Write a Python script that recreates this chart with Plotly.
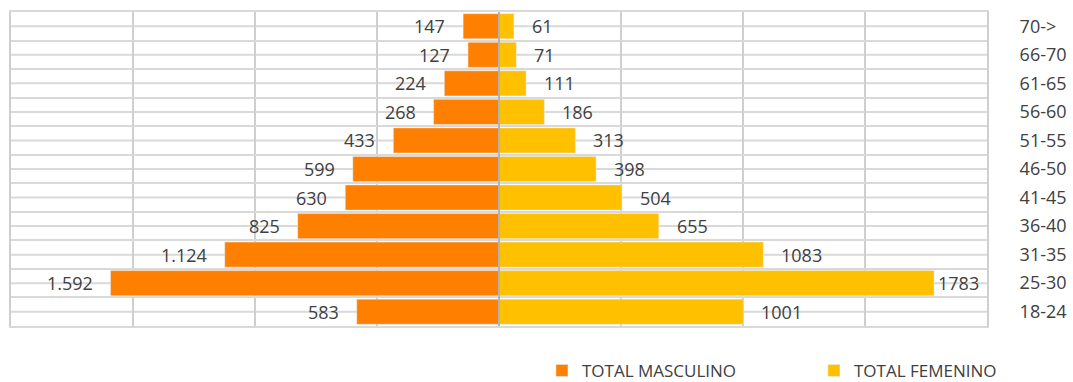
import plotly.graph_objects as go

# Age groups, bottom to top
age_groups = ["18-24", "25-30", "31-35", "36-40", "41-45", "46-50",
              "51-55", "56-60", "61-65", "66-70", "70->"]
male_totals = [583, 1592, 1124, 825, 630, 599, 433, 268, 224, 127, 147]
female_totals = [1001, 1783, 1083, 655, 504, 398, 313, 186, 111, 71, 61]
male_labels = ["583", "1.592", "1.124", "825", "630", "599", "433",
               "268", "224", "127", "147"]
female_labels = ["1001", "1783", "1083", "655", "504", "398", "313",
                 "186", "111", "71", "61"]
x_ticks = [-2000, -1500, -1000, -500, 0, 500, 1000, 1500, 2000]

MALE_COLOR = "#FF7F00"
FEMALE_COLOR = "#FFC000"
TEXT_COLOR = "#404040"
FONT = "Open Sans"
GRID_V = "#CFCFCF"
GRID_H = "#D9D9D9"

fig = go.Figure()
fig.add_trace(go.Bar(
    y=age_groups, x=[-v for v in male_totals], orientation="h",
    name="TOTAL MASCULINO", marker_color=MALE_COLOR, width=0.88,
    hoverinfo="skip",
))
fig.add_trace(go.Bar(
    y=age_groups, x=female_totals, orientation="h",
    name="TOTAL FEMENINO", marker_color=FEMALE_COLOR, width=0.88,
    hoverinfo="skip",
))

# value labels just beyond the bar ends
for cat, v, t in zip(age_groups, male_totals, male_labels):
    fig.add_annotation(x=-v, y=cat, text=t, showarrow=False,
                       xanchor="right", xshift=-16,
                       font=dict(family=FONT, size=18, color=TEXT_COLOR))
for cat, v, t in zip(age_groups, female_totals, female_labels):
    shift = 2 if v > 1700 else 16
    fig.add_annotation(x=v, y=cat, text=t, showarrow=False,
                       xanchor="left", xshift=shift,
                       font=dict(family=FONT, size=18, color=TEXT_COLOR))

# extra gridlines through the middle of each row
for cat in age_groups:
    fig.add_shape(type="line", xref="paper", x0=0, x1=1, y0=cat, y1=cat,
                  line=dict(color=GRID_H, width=2), layer="below")

# central axis line drawn over the bars
fig.add_shape(type="line", x0=0, x1=0, yref="paper", y0=0, y1=1,
              line=dict(color="#B4B4B4", width=2), layer="above")

fig.update_layout(
    width=1073, height=382,
    margin=dict(l=11, r=86, t=12, b=56, autoexpand=False),
    paper_bgcolor="white", plot_bgcolor="white",
    barmode="overlay",
    font=dict(family=FONT, size=18, color=TEXT_COLOR),
    showlegend=True,
    legend=dict(orientation="h", x=0.544, xanchor="left", y=-0.143,
                yanchor="middle", entrywidth=227, entrywidthmode="pixels",
                font=dict(family=FONT, size=17, color=TEXT_COLOR),
                itemclick=False, itemdoubleclick=False),
    xaxis=dict(range=[-2000, 2000], tickvals=x_ticks, showticklabels=False,
               showgrid=True, gridcolor=GRID_V, gridwidth=2,
               zeroline=False, showline=True, linecolor=GRID_H,
               linewidth=2, mirror=True, automargin=False, fixedrange=True),
    yaxis=dict(type="category", categoryarray=age_groups,
               categoryorder="array", side="right", tickson="boundaries",
               showgrid=True, gridcolor=GRID_H, gridwidth=2,
               ticks="", ticklabelstandoff=27, showline=True,
               linecolor=GRID_V, linewidth=2, mirror=True,
               zeroline=False, automargin=False, fixedrange=True,
               tickfont=dict(family=FONT, size=18, color=TEXT_COLOR)),
)

fig.write_html("out.html")
